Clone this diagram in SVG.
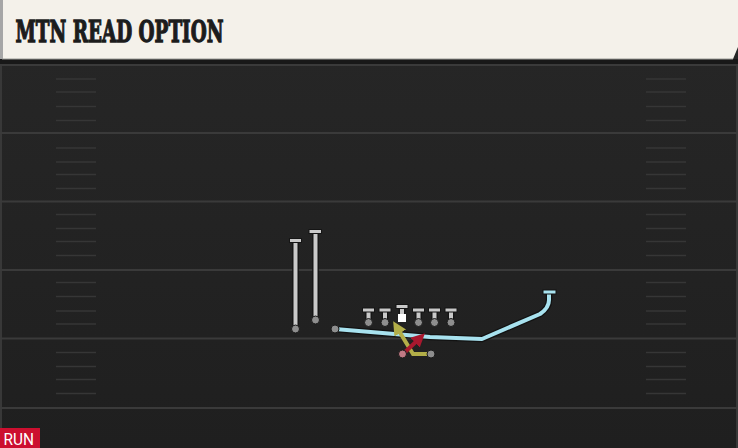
<svg xmlns="http://www.w3.org/2000/svg" width="738" height="448" viewBox="0 0 738 448">
<defs>
<linearGradient id="fieldGrad" x1="0" y1="0" x2="0" y2="1">
<stop offset="0" stop-color="#272727"/>
<stop offset="1" stop-color="#1f1f1f"/>
</linearGradient>
<marker id="arrowY" viewBox="0 0 10 10" refX="6" refY="5" markerWidth="3.4" markerHeight="3.4" orient="auto" markerUnits="strokeWidth">
<path d="M0,0 L10,5 L0,10 Z" fill="#b2ae48"/>
</marker>
<marker id="arrowR" viewBox="0 0 10 10" refX="6" refY="5" markerWidth="3.4" markerHeight="3.4" orient="auto" markerUnits="strokeWidth">
<path d="M0,0 L10,5 L0,10 Z" fill="#a8182e"/>
</marker>
</defs>
<style>
.yard{stroke:#3a3a3a;stroke-width:2;fill:none}
.hash{stroke:#363636;stroke-width:1.6;fill:none}
.stemO{stroke:#151515;stroke-width:6.5;stroke-linecap:butt;fill:none}
.stem{stroke:#c9c9c9;stroke-width:4;fill:none}
.bar{fill:#c9c9c9;stroke:#151515;stroke-width:1}
.dot{fill:#8e8e8e;stroke:#1a1a1a;stroke-width:1}
.title{font-family:"DejaVu Serif",serif;font-weight:bold;font-size:29px;fill:#1c1c1c;stroke:#1c1c1c;stroke-width:1.3;stroke-linejoin:miter}
</style>
<rect x="0" y="0" width="738" height="448" fill="url(#fieldGrad)"/>
<rect x="0" y="59" width="738" height="5" fill="#181818"/>
<g id="header">
<path d="M2,0 H738 V47 L733,59 H2 Z" fill="#f4f1ea"/>
<rect x="0" y="0" width="3" height="59" fill="#a6a6a6"/>
<line x1="2" y1="59" x2="733" y2="59" stroke="#9a9a96" stroke-width="1"/>
<text class="title" x="15.5" y="42" textLength="208" lengthAdjust="spacingAndGlyphs">MTN READ OPTION</text>
</g>
<g id="field">
<line x1="1" y1="64" x2="1" y2="448" stroke="#383838" stroke-width="2"/>
<line x1="737" y1="64" x2="737" y2="448" stroke="#383838" stroke-width="2"/>
<line class="yard" x1="0" y1="65" x2="738" y2="65"/>
<line class="yard" x1="0" y1="133" x2="738" y2="133"/>
<line class="yard" x1="0" y1="201.5" x2="738" y2="201.5"/>
<line class="yard" x1="0" y1="270" x2="738" y2="270"/>
<line class="yard" x1="0" y1="338.5" x2="738" y2="338.5"/>
<line class="yard" x1="0" y1="408" x2="738" y2="408"/>
<path class="hash" d="M56,79H96M56,92H96M56,106.5H96M56,120.5H96M56,148H96M56,162H96M56,174.5H96M56,188.5H96M56,214.5H96M56,228.5H96M56,241.5H96M56,255.5H96M56,282.5H96M56,296.5H96M56,311H96M56,324H96M56,352.5H96M56,366.5H96M56,379.5H96M56,393.5H96"/>
<path class="hash" d="M646,79H686M646,92H686M646,106.5H686M646,120.5H686M646,148H686M646,162H686M646,174.5H686M646,188.5H686M646,214.5H686M646,228.5H686M646,241.5H686M646,255.5H686M646,282.5H686M646,296.5H686M646,311H686M646,324H686M646,352.5H686M646,366.5H686M646,379.5H686M646,393.5H686"/>
</g>
<g id="connectors">
<path d="M335,329 L430,337 L482,339 L540,314 Q549,308 549,300 L549,293" fill="none" stroke="#121212" stroke-width="6.5" stroke-linejoin="round"/>
<path d="M335,329 L430,337 L482,339 L540,314 Q549,308 549,300 L549,293" fill="none" stroke="#a8e2ef" stroke-width="4" stroke-linejoin="round"/>
<rect x="543" y="290" width="13" height="4" fill="#a8e2ef" stroke="#121212" stroke-width="1"/>
<path d="M431,354 L413,354 L396,326" fill="none" stroke="#b2ae48" stroke-width="4" stroke-linejoin="miter" marker-end="url(#arrowY)"/>
<path d="M403,354 L421,337" fill="none" stroke="#a8182e" stroke-width="4" marker-end="url(#arrowR)"/>
</g>
<g id="wr1">
<line class="stemO" x1="295.5" y1="241" x2="295.5" y2="328"/>
<line class="stem" x1="295.5" y1="241" x2="295.5" y2="328"/>
<rect class="bar" x="289.5" y="238.5" width="12" height="4"/>
<circle class="dot" cx="295.5" cy="329" r="4"/>
</g>
<g id="wr2">
<line class="stemO" x1="315.5" y1="232" x2="315.5" y2="319"/>
<line class="stem" x1="315.5" y1="232" x2="315.5" y2="319"/>
<rect class="bar" x="309" y="229.5" width="12.5" height="4"/>
<circle class="dot" cx="315.5" cy="320" r="4"/>
</g>
<g id="rb">
<circle class="dot" cx="335" cy="329" r="4"/>
</g>
<g id="lt">
<line class="stemO" x1="368.5" y1="311" x2="368.5" y2="321"/><line class="stem" x1="368.5" y1="311" x2="368.5" y2="321"/>
<rect class="bar" x="362.5" y="308" width="12" height="4"/><circle class="dot" cx="368.5" cy="322.5" r="4"/>
</g>
<g id="lg">
<line class="stemO" x1="385" y1="311" x2="385" y2="321"/><line class="stem" x1="385" y1="311" x2="385" y2="321"/>
<rect class="bar" x="379" y="308" width="12" height="4"/><circle class="dot" cx="385" cy="322.5" r="4"/>
</g>
<g id="c">
<line class="stemO" x1="402" y1="308" x2="402" y2="316"/><line class="stem" x1="402" y1="308" x2="402" y2="316"/>
<rect class="bar" x="396" y="304.5" width="12" height="4"/>
<rect x="398" y="314" width="8" height="8" fill="#ffffff"/>
</g>
<g id="rg">
<line class="stemO" x1="418.5" y1="311" x2="418.5" y2="321"/><line class="stem" x1="418.5" y1="311" x2="418.5" y2="321"/>
<rect class="bar" x="412.5" y="308" width="12" height="4"/><circle class="dot" cx="418.5" cy="322.5" r="4"/>
</g>
<g id="rt">
<line class="stemO" x1="434.5" y1="311" x2="434.5" y2="321"/><line class="stem" x1="434.5" y1="311" x2="434.5" y2="321"/>
<rect class="bar" x="428.5" y="308" width="12" height="4"/><circle class="dot" cx="434.5" cy="322.5" r="4"/>
</g>
<g id="te">
<line class="stemO" x1="451" y1="311" x2="451" y2="321"/><line class="stem" x1="451" y1="311" x2="451" y2="321"/>
<rect class="bar" x="445" y="308" width="12" height="4"/><circle class="dot" cx="451" cy="322.5" r="4"/>
</g>
<g id="rb2">
<circle class="dot" cx="431" cy="354" r="4"/>
</g>
<g id="qb">
<circle cx="402.5" cy="354" r="4" fill="#c07a84" stroke="#1a1a1a" stroke-width="1"/>
</g>
<g id="run-tag">
<rect x="0" y="428" width="40" height="20" fill="#cc0f2f"/>
<text x="3.5" y="444.5" font-family="Roboto, 'Liberation Sans', sans-serif" font-size="16" fill="#ffffff" textLength="30.5" lengthAdjust="spacingAndGlyphs">RUN</text>
</g>
</svg>
